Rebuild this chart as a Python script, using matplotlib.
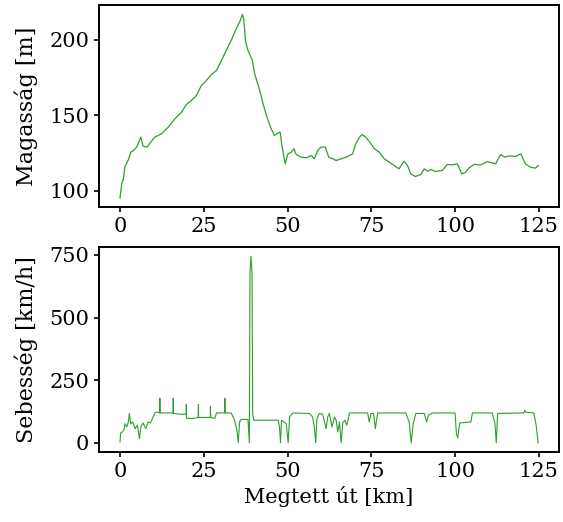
import numpy as np
import matplotlib.pyplot as plt

plt.rcParams['font.family'] = 'DejaVu Serif'
plt.rcParams['font.size'] = 15
plt.rcParams['axes.linewidth'] = 1.4
plt.rcParams['xtick.major.width'] = 1.2
plt.rcParams['ytick.major.width'] = 1.2

# Elevation profile (km, m)
km_elev = [0, 0.5, 1.0, 1.5, 2.5, 3.2, 4, 5, 6.2, 6.9, 8.1, 9.1, 10.4, 12.4, 14.4,
           16.4, 18.4, 19.8, 21.3, 22.8, 24.3, 25.8, 27.3, 28.8, 30.3, 31.7, 33.2,
           34.7, 35.9, 36.5, 36.9, 37.5, 38.2, 39.5, 40.2, 41.7, 42.7, 43.7, 45.1,
           46.1, 47.1, 47.8, 48.4, 49.3, 50.1, 51.1, 51.9, 52.6, 54.1, 55.6, 57.1,
           58.0, 59.0, 60, 61.3, 62.3, 63.5, 64.5, 66, 67.5, 69.4, 70.4, 71.4, 72.2,
           73.4, 74.9, 75.9, 77.4, 78.9, 80.4, 81.8, 83.3, 84.8, 85.8, 86.8, 88.1,
           89.8, 90.8, 91.8, 92.8, 94.2, 96.2, 97.7, 99.2, 100.7, 102, 103.2, 104.2,
           105.7, 107.7, 109.6, 112.1, 113.6, 114.9, 116.3, 118.1, 119.6, 121, 122.5,
           124, 124.8]
elev = [95, 104.4, 107.7, 116, 120.4, 125.4, 126.5, 128.8, 135.4, 129.4, 128.8, 132,
        135.4, 137.6, 142, 147.6, 152, 157, 159.7, 163, 169.7, 173, 177, 179.6, 186.3,
        192.9, 199.6, 207.3, 212.8, 216.8, 214, 198.5, 193, 186.3, 177.4, 166.4, 157.5,
        149.8, 141, 136.5, 138, 138.7, 128.8, 117.7, 124.3, 125.4, 127.7, 123.9, 122.1,
        121.7, 123.2, 121, 126.5, 128.8, 128.8, 122.1, 121, 119.9, 121, 122.1, 124.3,
        131, 135, 137.2, 135.4, 131, 127.7, 125.4, 121, 118.8, 116.6, 114.4, 119.5,
        116.6, 111, 109.3, 110.6, 114.4, 112.8, 113.9, 112.6, 113.3, 117.3, 117, 117.7,
        111, 112.2, 115, 117.3, 117, 119.2, 117.7, 123.9, 122.1, 123, 122.6, 124.3,
        117.7, 115.5, 114.8, 116.6]

# Speed profile (km, km/h)
km_speed = [0, 0.2, 0.7, 1.2, 1.5, 2.0, 2.5, 2.8, 3.2, 3.8, 4.5, 5.2, 5.8, 6.2, 6.9,
            7.7, 8.4, 9.1, 9.7, 10.4, 10.9, 11.85, 11.9, 11.95, 13.9, 15.85, 15.9, 15.95,
            17.9, 19.75, 19.8, 19.85, 21.8, 23.35, 23.4, 23.45, 25.3, 26.95, 27.0, 27.05,
            28.3, 28.8, 30.8, 31.25, 31.3, 31.35, 33.2, 34.2, 34.9, 35.3, 35.7, 36.2,
            38.2, 38.6, 38.8, 39.1, 39.4, 39.6, 39.9, 42.7, 47.2, 47.6, 47.9, 48.2, 49.6,
            50.2, 50.6, 51.6, 56.5, 57.5, 58.0, 58.4, 58.8, 59.5, 60.5, 61.5, 62.0, 62.5,
            63.3, 64.0, 64.5, 65.0, 65.5, 66.0, 66.5, 67.1, 67.7, 68.5, 73.9, 74.4, 74.9,
            75.7, 76.2, 76.9, 85.3, 86.3, 86.9, 87.5, 88.3, 90.8, 91.5, 92.1, 93.3, 100,
            100.4, 100.8, 101.4, 104.7, 105.2, 111.1, 111.9, 112.3, 112.7, 120.5, 120.8,
            121.0, 123.5, 124.2, 124.8]
speed = [3, 39, 43, 52, 76, 63, 83, 117, 76, 83, 56, 70, 16, 63, 79,
         56, 83, 79, 97, 119, 123, 119, 178, 119, 119, 119, 178, 117,
         114, 114, 154, 97, 97, 101, 152, 101, 101, 101, 146, 101,
         97, 119, 119, 119, 177, 119, 119, 90, 50, 0, 83, 93,
         93, 0, 680, 745, 680, 117, 90, 90, 90, 63, 0, 90, 76,
         0, 103, 119, 117, 103, 63, 0, 97, 117, 114, 56, 103, 117,
         63, 103, 90, 43, 83, 0, 79, 90, 70, 119, 119, 83, 117,
         117, 56, 119, 119, 83, 0, 76, 117, 117, 83, 110, 119, 119,
         36, 19, 79, 83, 119, 119, 76, 0, 117, 119, 130,
         122, 119, 70, 0]

fig = plt.figure(figsize=(5.63, 5.22), dpi=100)
ax1 = fig.add_axes([0.176, 0.603, 0.817, 0.387])
ax2 = fig.add_axes([0.176, 0.134, 0.817, 0.393])

ax1.plot(km_elev, elev, color='tab:green', linewidth=0.9)
ax1.set_ylabel("Magasság [m]", fontsize=16, labelpad=8)
ax1.set_xticks([0, 25, 50, 75, 100, 125])

ax2.plot(km_speed, speed, color='tab:green', linewidth=0.8)
ax2.set_ylabel("Sebesség [km/h]", fontsize=16, labelpad=8)
ax2.set_xlabel("Megtett út [km]")
ax2.set_xticks([0, 25, 50, 75, 100, 125])
ax2.set_yticks([0, 250, 500, 750])

plt.savefig('out.png', dpi=100)
